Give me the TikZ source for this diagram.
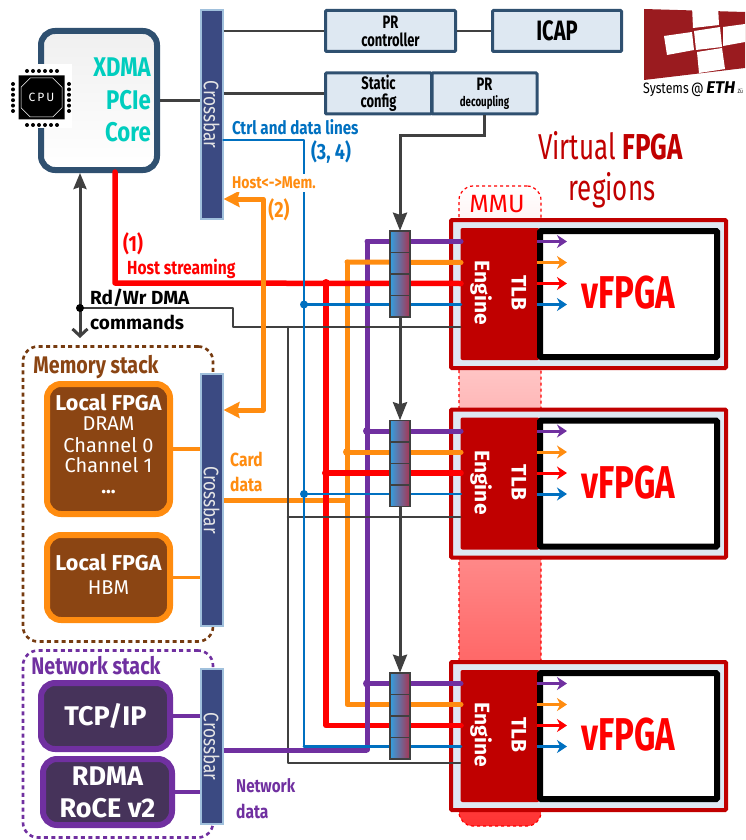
\documentclass[tikz,border=0pt]{standalone}
\usepackage{fontspec}
\setmainfont[FakeStretch=0.82]{Fira Sans}
\newfontfamily\widefont{Fira Sans}
\newfontfamily\narrowfont[FakeStretch=0.72]{Fira Sans}
\usepackage{tikz}
\usetikzlibrary{positioning,arrows.meta,shapes.misc}
\definecolor{slateblue}{RGB}{47,80,112}
\definecolor{paleblue}{RGB}{222,232,242}
\definecolor{xbarblue}{RGB}{59,74,130}
\definecolor{xbaredge}{RGB}{160,192,220}
\definecolor{darkred}{RGB}{192,0,0}
\definecolor{logored}{RGB}{154,27,31}
\definecolor{busorange}{RGB}{255,140,16}
\definecolor{buspurple}{RGB}{112,48,160}
\definecolor{busblue}{RGB}{0,112,192}
\definecolor{busgray}{RGB}{64,64,64}
\definecolor{membrown}{RGB}{139,69,19}
\definecolor{netdark}{RGB}{70,51,90}
\definecolor{coretxt}{RGB}{0,205,190}
\definecolor{muxleft}{RGB}{50,160,225}
\definecolor{muxright}{RGB}{170,50,80}
\newcommand{\fsz}[1]{\fontsize{#1}{#1}\selectfont}
\tikzset{
  xbar/.style={rectangle,draw=xbaredge,fill=xbarblue,line width=2pt,minimum width=22,inner sep=0pt,text=black!10,font=\fsz{21}},
  cfgbox/.style={rectangle,draw=slateblue,fill=paleblue,line width=3pt,rounded corners=1pt,inner sep=0pt,align=center,font=\narrowfont\bfseries\fontsize{18}{18}\selectfont},
  membox/.style={rectangle,draw=busorange,fill=membrown,line width=6pt,rounded corners=14pt,minimum width=123,inner sep=0pt,text=white},
  netbox/.style={rectangle,draw=buspurple,fill=netdark,line width=6pt,rounded corners=14pt,minimum width=129,minimum height=66,inner sep=0pt,text=white,align=center},
  stack/.style={rectangle,line width=2.6pt,dash pattern=on 4pt off 3.4pt,rounded corners=15pt,minimum width=190,inner sep=0pt},
  vframe/.style={rectangle,draw=darkred,fill=paleblue,line width=4pt,rounded corners=1pt,minimum width=275,minimum height=148,inner sep=0pt},
  enginebox/.style={rectangle,fill=darkred,rounded corners=2pt,minimum width=79,minimum height=132,inner sep=0pt},
  vbox/.style={rectangle,draw=black,fill=white,line width=6pt,rounded corners=1pt,minimum width=177,minimum height=126,inner sep=0pt},
  enginetxt/.style={text=white,font=\widefont\bfseries\fsz{21},inner sep=0pt},
  vtxt/.style={text=red,font=\narrowfont\bfseries\fsz{46},inner sep=0pt},
  muxcell/.style={rectangle,draw=busgray,line width=1.5pt,left color=muxleft,right color=muxright,minimum width=20,minimum height=21.5,inner sep=0pt,outer sep=0pt},
  ctrlline/.style={busgray,line width=2.8pt},
  gline/.style={busgray,line width=2.6pt,line cap=round,line join=round},
  mline/.style={busgray,line width=3pt,-{Stealth[length=18pt,width=14pt,inset=2pt]}},
  pbus/.style={buspurple,line width=5pt,line cap=round,line join=round},
  obus/.style={busorange,line width=5pt,line cap=round,line join=round},
  rbus/.style={red,line width=5.5pt,line cap=round,line join=round},
  bbus/.style={busblue,line width=2.8pt,line cap=round,line join=round},
  vtip/.style={line width=3pt,-{Stealth[length=10pt,width=13pt]}},
  jdot/.style={circle,inner sep=0pt,minimum size=8pt},
  blab/.style={inner sep=0pt,font=\bfseries\fsz{17}},
}
\newcommand{\vregion}[2]{%
  \node[vframe] (frame#1) at (588.5,{#2+76}) {};
  \node[enginebox] (eng#1) at (500,{#2+76}) {};
  \node[vbox] (vf#1) at (628.5,{#2+76}) {};
  \node[enginetxt,rotate=-90] (lbleng#1) at (481,{#2+75}) {Engine};
  \node[enginetxt,rotate=-90] (lbltlb#1) at (519,{#2+75}) {TLB};
  \node[vtxt] (lblvf#1) at (628,{#2+75}) {vFPGA};
  \coordinate (p#1) at (461,{#2+23.5});
  \coordinate (o#1) at (461,{#2+44.5});
  \coordinate (r#1) at (461,{#2+65.5});
  \coordinate (b#1) at (461,{#2+86.5});
  \coordinate (tipp#1) at (567,{#2+23.5});
  \coordinate (tipo#1) at (567,{#2+44.5});
  \coordinate (tipr#1) at (567,{#2+65.5});
  \coordinate (tipb#1) at (567,{#2+86.5});
  \draw[vtip,buspurple] (vf#1.west |- tipp#1) -- (tipp#1);
  \draw[vtip,busorange] (vf#1.west |- tipo#1) -- (tipo#1);
  \draw[vtip,red] (vf#1.west |- tipr#1) -- (tipr#1);
  \draw[vtip,busblue] (vf#1.west |- tipb#1) -- (tipb#1);
}
\newcommand{\muxstack}[2]{%
  \node[muxcell] (mux#1a) at (400,{#2+23.5}) {};
  \node[muxcell,below=0pt of mux#1a] (mux#1b) {};
  \node[muxcell,below=0pt of mux#1b] (mux#1c) {};
  \node[muxcell,below=0pt of mux#1c] (mux#1d) {};
}
\begin{document}
\begin{tikzpicture}[x=1pt,y=-1pt]
  \useasboundingbox (0,0) rectangle (745,840);
  \node[stack,draw=membrown!85!black,minimum height=295] (memstack) at (118,494) {};
  \node[stack,draw=buspurple,minimum height=187] (netstack) at (118,744) {};
  \node[rectangle,draw=red,dashed,line width=1.2pt,rounded corners=14pt,top color=white,bottom color=red!80,minimum width=82,minimum height=640,inner sep=0pt] (mmu) at (500,506) {};
  \vregion{A}{218}
  \vregion{B}{407.5}
  \vregion{C}{660}
  \node[xbar,minimum height=209] (xbartop) at (211.5,114.5) {\rotatebox{-90}{Crossbar}};
  \node[xbar,minimum height=252] (xbarmem) at (211.5,500) {\rotatebox{-90}{Crossbar}};
  \node[xbar,minimum height=155] (xbarnet) at (211.5,746.5) {\rotatebox{-90}{Crossbar}};
  \node[rectangle,draw=slateblue,line width=6pt,rounded corners=14pt,top color=black!6,bottom color=white,minimum width=116,minimum height=139,inner sep=0pt] (core) at (99,100.5) {};
  \node[cfgbox,minimum width=130,minimum height=41] (prctl) at (390.5,31) {PR\\controller};
  \node[cfgbox,minimum width=129,minimum height=41,font=\narrowfont\bfseries\fsz{28}] (icap) at (557,31) {ICAP};
  \node[cfgbox,minimum width=106,minimum height=41] (static) at (378.5,93.5) {Static\\config};
  \node[cfgbox,minimum width=105,minimum height=41] (prdec) at (484.5,93.5) {PR\\[-2pt]{\fontsize{13.5}{12}\selectfont decoupling}};
  \node[membox,minimum height=130] (dram) at (108.5,449) {};
  \node[membox,minimum height=85] (hbm) at (108.5,577.5) {};
  \node[netbox,font=\widefont\bfseries\fsz{27}] (tcpip) at (105.5,716) {TCP/IP};
  \node[netbox,font=\widefont\bfseries\fontsize{27}{32}\selectfont] (rdma) at (107.5,792) {RDMA\\RoCE v2};
  \coordinate (redsrc) at (115,172);
  \coordinate (redturn) at (115,283);
  \coordinate (redj) at (326,283);
  \coordinate (orgj) at (347,262);
  \coordinate (purj) at (367,750);
  \coordinate (bluej) at (304,140);
  \coordinate (hostup) at (263,199);
  \coordinate (hostdn) at (263,410);
  \coordinate (graya) at (233,308);
  \coordinate (grayb) at (233,327);
  \coordinate (grayc) at (288,327);
  \coordinate (grayd) at (288,517);
  \coordinate (graye) at (288,763);
  \coordinate (dmaj) at (80,308);
  \coordinate (dmaend) at (80,338);
  \draw[ctrlline] (core.east) -- (xbartop.west |- core.east);
  \draw[ctrlline] (xbartop.east |- prctl.west) -- (prctl.west);
  \draw[ctrlline] (prctl.east) -- (icap.west);
  \draw[ctrlline] (xbartop.east |- static.west) -- (static.west);
  \draw[obus,line width=3.4pt,line cap=butt] (dram.east) -- (xbarmem.west |- dram.east);
  \draw[obus,line width=3.4pt,line cap=butt] (hbm.east) -- (xbarmem.west |- hbm.east);
  \draw[pbus,line width=3.4pt,line cap=butt] (tcpip.east) -- (xbarnet.west |- tcpip.east);
  \draw[pbus,line width=3.4pt,line cap=butt] (rdma.east) -- (xbarnet.west |- rdma.east);
  \draw[obus,line cap=butt] (xbarmem.east |- 0,500) -- (orgj |- 0,500);
  \draw[gline] (grayc) -- (graye) -- (graye -| engC.west);
  \draw[rbus] (redj) -- (redj |- rC) -- (rC);
  \draw[obus] (orgj) -- (orgj |- oC) -- (oC);
  \draw[pbus] (purj |- pA) -- (purj);
  \draw[pbus] (purj |- pA) -- (pA);
  \draw[pbus] (purj |- pB) -- (pB);
  \draw[pbus] (purj |- pC) -- (pC);
  \draw[obus] (orgj) -- (oA);
  \draw[obus] (orgj |- oB) -- (oB);
  \draw[rbus] (redsrc) -- (redturn) -- (rA);
  \draw[rbus] (redj |- rB) -- (rB);
  \draw[bbus] (bluej |- bA) -- (bA);
  \draw[bbus] (bluej |- bB) -- (bB);
  \draw[bbus] (bluej |- bC) -- (bC);
  \draw[gline] (dmaj) -- (graya) -- (grayb) -- (grayb -| engA.west);
  \draw[gline] (grayd) -- (grayd -| engB.west);
  \draw[bbus] (xbartop.east |- bluej) -- (bluej) -- (bluej |- bC);
  \draw[obus,{Stealth[length=16pt,width=16pt,inset=2pt]}-{Stealth[length=16pt,width=16pt,inset=2pt]},line cap=butt] (xbartop.east |- hostup) -- (hostup) -- (hostdn) -- (xbarmem.east |- hostdn);
  \draw[pbus,line cap=butt] (xbarnet.east |- purj) -- (purj);
  \draw[busgray,line width=3pt,{Straight Barb[length=7pt,width=15pt]}-{Stealth[length=16pt,width=13pt,inset=2pt]}] (dmaend) -- (core.south -| dmaj);
  \node[jdot,fill=buspurple] (dotpb) at (purj |- pB) {};
  \node[jdot,fill=buspurple] (dotpc) at (purj |- pC) {};
  \node[jdot,fill=busorange] (dotob) at (orgj |- oB) {};
  \node[jdot,fill=red] (dotra) at (redj) {};
  \node[jdot,fill=red] (dotrb) at (redj |- rB) {};
  \node[jdot,fill=busblue] (dotba) at (bluej |- bA) {};
  \node[jdot,fill=busblue] (dotbb) at (bluej |- bB) {};
  \node[jdot,fill=black] (dotdma) at (dmaj) {};
  \muxstack{A}{218}
  \muxstack{B}{407.5}
  \muxstack{C}{660}
  \draw[mline] (prdec.south) -- ++(0,20) -| (muxAa.north);
  \draw[mline] (muxAd.south) -- (muxBa.north);
  \draw[mline] (muxBd.south) -- (muxCa.north);
  \node[rectangle,fill=white,minimum width=60,minimum height=64,inner sep=0pt] (cpuback) at (42,96.5) {};
  \node[chamfered rectangle,chamfered rectangle xsep=7pt,chamfered rectangle ysep=7pt,fill=black,minimum width=46,minimum height=44,inner sep=0pt] (cpuouter) at (41.5,97.5) {};
  \node[chamfered rectangle,chamfered rectangle xsep=5pt,chamfered rectangle ysep=5pt,draw=white,line width=.5pt,fill=black,text=white,minimum width=41,minimum height=39,inner sep=0pt,font=\widefont\fsz{12}] (cpu) at (41.5,97.5) {C\,P\,U};
  \foreach \i in {0,...,5} {
    \fill (27+\i*6,71) circle (2pt);
    \fill (27+\i*6,125) circle (2pt);
    \fill (13,84+\i*5.4) circle (2pt);
    \fill (69,84+\i*5.4) circle (2pt);
  }
  \node[anchor=east,text=coretxt,inner sep=0pt,font=\bfseries\fsz{27}] (lblxdma) at (151,67) {XDMA};
  \node[anchor=east,text=coretxt,inner sep=0pt,font=\bfseries\fsz{27}] (lblpcie) at (151,100) {PCIe};
  \node[anchor=east,text=coretxt,inner sep=0pt,font=\bfseries\fsz{27}] (lblcore) at (151,132) {Core};
  \node[text=white,inner sep=0pt,font=\widefont\bfseries\fsz{21.5}] (lbldram1) at (108.5,403) {Local FPGA};
  \node[text=white,inner sep=0pt,font=\widefont\fsz{20}] (lbldram2) at (108.5,424) {DRAM};
  \node[text=white,inner sep=0pt,font=\widefont\fsz{20}] (lbldram3) at (108.5,445) {Channel 0};
  \node[text=white,inner sep=0pt,font=\widefont\fsz{20}] (lbldram4) at (108.5,465) {Channel 1};
  \node[text=white,inner sep=0pt,font=\widefont\bfseries\fsz{20}] (lbldram5) at (108.5,492) {...};
  \node[text=white,inner sep=0pt,font=\widefont\bfseries\fsz{21.5}] (lblhbm1) at (108.5,563) {Local FPGA};
  \node[text=white,inner sep=0pt,font=\widefont\fsz{20}] (lblhbm2) at (108.5,588) {HBM};
  \node[text=membrown,inner sep=0pt,font=\bfseries\fsz{24}] (lblmem) at (96,367) {Memory stack};
  \node[text=buspurple,inner sep=0pt,font=\bfseries\fsz{24}] (lblnet) at (96,666) {Network stack};
  \node[blab,anchor=west,text=busblue,font=\bfseries\fsz{18.5}] (lblctrl) at (232,127) {Ctrl and data lines};
  \node[blab,text=busblue,font=\bfseries\fsz{22}] (lblctrln) at (331,152) {(3, 4)};
  \node[blab,anchor=west,text=busorange,fill=white,inner ysep=3pt,inner xsep=1pt] (lblhost) at (231,183) {Host<->Mem.};
  \node[blab,text=busorange,font=\bfseries\fsz{22}] (lblhostn) at (279,210) {(2)};
  \node[blab,text=red,font=\bfseries\fsz{22}] (lblstrn) at (133,244) {(1)};
  \node[blab,anchor=west,text=red,font=\bfseries\fsz{19}] (lblstr) at (127,269) {Host streaming};
  \node[blab,anchor=west,font=\widefont\bfseries\fsz{19}] (lbldma1) at (90,298) {Rd/Wr DMA};
  \node[blab,anchor=west,font=\widefont\bfseries\fsz{19}] (lbldma2) at (90,322) {commands};
  \node[blab,anchor=west,text=busorange,font=\bfseries\fsz{19}] (lblcard1) at (230,459) {Card};
  \node[blab,anchor=west,text=busorange,font=\bfseries\fsz{19}] (lblcard2) at (230,484) {data};
  \node[blab,anchor=west,text=buspurple,font=\bfseries\fsz{18.5}] (lblnetd1) at (236,786) {Network};
  \node[blab,anchor=west,text=buspurple,font=\bfseries\fsz{19}] (lblnetd2) at (236,811) {data};
  \node[text=red,inner sep=0pt,font=\widefont\fsz{25}] (lblmmu) at (497,204) {MMU};
  \node[anchor=west,text=darkred,inner sep=0pt,font=\narrowfont\fsz{36}] (lblvirt) at (538,146) {Virtual \textbf{FPGA}};
  \node[text=darkred,inner sep=0pt,font=\narrowfont\fsz{36}] (lblreg) at (612,190) {regions};
  \fill[logored] (644,9) -- (745,12) -- (745,68) -- (644,80) -- cycle;
  \fill[white] (692,6) -- (718,5) -- (719,25) -- (693,28) -- cycle;
  \fill[white] (664,36) -- (692,32) -- (694,50) -- (667,55) -- cycle;
  \fill[white] (694,31) -- (720,27) -- (722,47) -- (696,50) -- cycle;
  \fill[white] (723,27) -- (745,24) -- (745,42) -- (723,46) -- cycle;
  \fill[white] (697,52) -- (722,48) -- (725,69) -- (699,73) -- cycle;
  \node[anchor=west,inner sep=0pt,font=\fsz{15}] (lbllogo) at (643,89) {Systems\,@\,{\widefont\bfseries\itshape\fontsize{17}{17}\selectfont ETH}\,{\fontsize{6}{6}\selectfont Zü}};
\end{tikzpicture}
\end{document}
